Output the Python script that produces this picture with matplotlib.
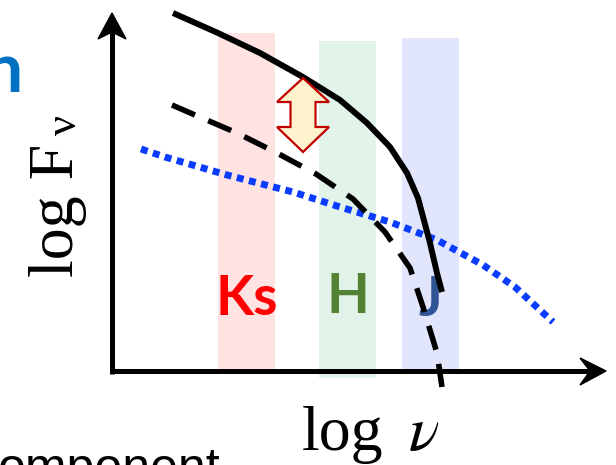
import numpy as np
import matplotlib
matplotlib.use("Agg")
import matplotlib.pyplot as plt
from matplotlib.patches import Polygon

plt.rcParams["mathtext.fontset"] = "stix"

# schematic SED: log nu (x) against log F_nu (y), arbitrary units,
# origin at the corner of the two axes
total_x = [61, 106, 148, 191, 228, 255, 278, 295, 306, 310, 318, 325, 330]
total_y = [358, 338, 318, 294, 271, 248, 224, 198, 173, 158, 128, 98, 79]

star_x = [60, 83, 125, 165, 204, 241, 273, 298, 311, 325, 330]
star_y = [266, 256, 238, 218, 197, 172, 139, 103, 64, 18, -16]

disk_x = [29, 53, 115, 181, 228, 278, 325, 371, 403, 441]
disk_y = [222, 214, 196, 179, 164, 149, 131, 106, 84, 49]

# photometric bands
bands = ["Ks", "H", "J"]
band_left = [106, 207, 290]
band_right = [163, 264, 347]
band_bottom = [0, -7, -3]
band_top = [338, 330, 333]
band_fill = ["#FFE2E2", "#E2F3E9", "#E2E6FC"]
band_text = ["#FF0000", "#548235", "#2F5597"]
label_y = [56, 58, 55]

fig = plt.figure(figsize=(6.16, 4.65), dpi=100)
ax = fig.add_axes([0, 0, 1, 1])
ax.set_xlim(-112, 504)
ax.set_ylim(-94, 371)
ax.axis("off")

# bands and their names
for i in range(len(bands)):
    left, right = band_left[i], band_right[i]
    ax.bar((left + right) / 2, band_top[i] - band_bottom[i], width=right - left,
           bottom=band_bottom[i], color=band_fill[i], zorder=1)
    ax.text((left + right) / 2, label_y[i], bands[i], color=band_text[i],
            fontsize=40, fontweight="bold", family="Lato",
            ha="center", va="baseline", zorder=2)

# axes with arrow heads
ax.plot([0, 0], [-2.5, 340], color="black", lw=3.6, solid_capstyle="butt", zorder=4)
ax.plot([-2.5, 480], [0, 0], color="black", lw=3.6, solid_capstyle="butt", zorder=4)
ax.add_patch(Polygon([(0, 358), (-14, 332), (0, 339), (14, 332)],
                     closed=True, color="black", zorder=4))
ax.add_patch(Polygon([(494, 0), (468, 13), (478, 0), (468, -14)],
                     closed=True, color="black", zorder=4))

# components
ax.plot(disk_x, disk_y, color="#0A3CFF", lw=5, ls=(0, (1, 0.8)),
        dash_capstyle="butt", solid_joinstyle="round", zorder=3)
ax.plot(star_x, star_y, color="black", lw=4, ls=(0, (4.5, 2.6)),
        dash_capstyle="butt", zorder=3)
ax.plot(total_x, total_y, color="black", lw=4.3, solid_capstyle="butt",
        solid_joinstyle="round", zorder=3)

# double arrow marking the gap between total and stellar flux
cx, top, bot = 191, 293, 219
hw, sw, hb_top, hb_bot = 26, 12.5, 269, 244
ax.add_patch(Polygon([(cx, top), (cx + hw, hb_top), (cx + sw, hb_top), (cx + sw, hb_bot),
                      (cx + hw, hb_bot), (cx, bot), (cx - hw, hb_bot), (cx - sw, hb_bot),
                      (cx - sw, hb_top), (cx - hw, hb_top)],
                     closed=True, facecolor="#FFF2CC", edgecolor="#C00000",
                     lw=1.6, zorder=5))

# axis labels
serif = "Liberation Serif"
ax.text(-39, 94, "log F", family=serif, fontsize=46, rotation=90,
        rotation_mode="anchor", ha="left", va="baseline")
ax.text(-36, 236, "ν", family=serif, fontsize=32, rotation=90,
        rotation_mode="anchor", ha="left", va="baseline")
ax.text(190, -79, "log", family=serif, fontsize=46, ha="left", va="baseline")
ax.text(296, -79, r"$\nu$", fontsize=46, ha="left", va="baseline")

# bits of surrounding slide text
ax.text(-89, 279, "n", color="#0070C0", family="Lato", fontweight="bold",
        fontsize=50, ha="right", va="baseline", clip_on=False)
ax.text(-114, -112, "omponent", family="Liberation Sans", fontsize=36,
        ha="left", va="baseline", clip_on=False)

fig.savefig("out.png", dpi=100)
